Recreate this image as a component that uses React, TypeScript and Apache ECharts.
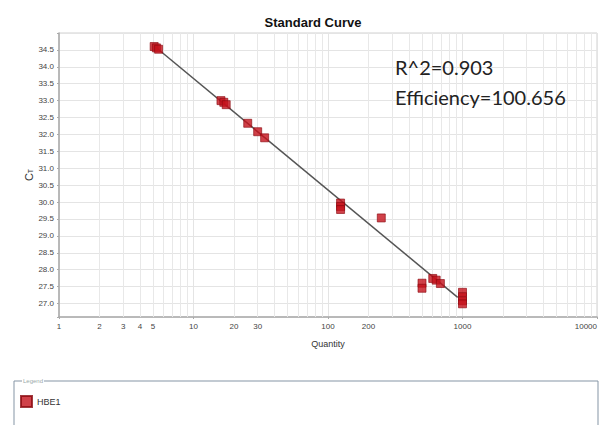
import React, { useEffect, useRef } from "react";
import * as echarts from "echarts";

const seriesName = "HBE1";
const quantities = [5.1, 5.3, 5.5, 16, 16.8, 17.5, 25.3, 30, 33.8, 124, 124, 124, 249, 500, 500, 601, 637, 685, 1000, 1000, 1000, 1000];
const ctValues = [34.6, 34.56, 34.52, 33.0, 32.95, 32.88, 32.33, 32.08, 31.9, 29.97, 29.87, 29.78, 29.53, 27.6, 27.45, 27.74, 27.69, 27.59, 27.33, 27.2, 27.08, 26.99];
const fitQuantities = [5.16, 921];
const fitCt = [34.6, 27.18];
const minorGridValues = [2, 3, 4, 5, 6, 7, 8, 9, 20, 30, 40, 50, 60, 70, 80, 90, 200, 300, 400, 500, 600, 700, 800, 900, 2000, 3000, 4000, 5000, 6000, 7000, 8000, 9000];
const minorLabelValues = [2, 3, 4, 5, 20, 30, 200];
const annotationLines = ["R^2=0.903", "Efficiency=100.656"];

export default function App() {
  const ref = useRef<HTMLDivElement>(null);
  useEffect(() => {
    if (!ref.current) return;
    const chart = echarts.init(ref.current, null, { renderer: "svg" });
    const points = quantities.map((q, i) => [q, ctValues[i]]);
    const fit = fitQuantities.map((q, i) => [q, fitCt[i]]);
    const labelFont = { fontSize: 8, color: "#444", fontFamily: "Liberation Sans, Arial, sans-serif" };
    chart.setOption({
      animation: false,
      backgroundColor: "#fff",
      title: {
        text: "Standard Curve",
        left: 308,
        textAlign: "center",
        top: 11,
        textStyle: { fontSize: 13, fontWeight: "bold", color: "#111", fontFamily: "Liberation Sans, Arial, sans-serif" },
      },
      grid: { left: 59, top: 33, right: 7, bottom: 108, show: true, borderColor: "#d0d0d0", borderWidth: 1, outerBoundsMode: "none", containLabel: false },
      xAxis: {
        type: "log",
        logBase: 10,
        min: 1,
        max: 10000,
        name: "Quantity",
        nameLocation: "middle",
        nameGap: 22,
        nameTextStyle: { fontSize: 9, color: "#333", fontFamily: "Liberation Sans, Arial, sans-serif" },
        axisLine: { lineStyle: { color: "#aaa", width: 1.5 } },
        axisTick: { show: true, length: 2, lineStyle: { color: "#aaa" } },
        axisLabel: { ...labelFont, margin: 5, alignMaxLabel: "right", formatter: (v: number) => String(Math.round(v)) },
        splitLine: { show: true, lineStyle: { color: "#e4e4e4", width: 1 } },
      },
      yAxis: {
        type: "value",
        min: 26.6,
        max: 35.0,
        splitNumber: 17,
        name: "{c|C}{t|T}",
        nameLocation: "middle",
        nameGap: 25,
        nameMoveOverlap: false,
        nameRotate: 90,
        nameTextStyle: {
          rich: {
            c: { fontSize: 11, color: "#333", fontFamily: "Liberation Sans, Arial, sans-serif" },
            t: { fontSize: 7, color: "#333", fontFamily: "Liberation Sans, Arial, sans-serif", verticalAlign: "bottom" },
          },
        },
        axisLine: { show: true, lineStyle: { color: "#aaa", width: 1.5 } },
        axisTick: { show: true, length: 2, lineStyle: { color: "#aaa" } },
        axisLabel: {
          ...labelFont,
          margin: 5,
          formatter: (v: number) => (v >= 26.99 && v <= 34.51 && Math.abs(v * 2 - Math.round(v * 2)) < 1e-6 ? v.toFixed(1) : ""),
        },
        splitLine: { show: true, lineStyle: { color: "#e4e4e4", width: 1 } },
      },
      legend: {
        data: [seriesName],
        left: 15,
        top: 390,
        icon: "rect",
        itemWidth: 11,
        itemHeight: 11,
        itemGap: 6,
        textStyle: { fontSize: 9, color: "#333", fontFamily: "Liberation Sans, Arial, sans-serif" },
      },
      graphic: [
        {
          type: "rect",
          shape: { x: 14, y: 381, width: 584, height: 80 },
          style: { fill: "none", stroke: "#8595a5", lineWidth: 1 },
          silent: true,
          z: 1,
        },
        {
          type: "text",
          x: 22,
          y: 378,
          style: { text: "Legend", fontSize: 6, fill: "#9aa", backgroundColor: "#fff", padding: [0, 1], fontFamily: "Liberation Sans, Arial, sans-serif" },
          silent: true,
          z: 2,
        },
        {
          type: "text",
          x: 395,
          y: 67,
          style: { text: annotationLines[0], fontSize: 20, fill: "#222", fontFamily: "Lato, sans-serif", verticalAlign: "middle" },
          z: 10,
        },
        {
          type: "text",
          x: 395,
          y: 97,
          style: { text: annotationLines[1], fontSize: 20, fill: "#222", fontFamily: "Lato, sans-serif", verticalAlign: "middle" },
          z: 10,
        },
      ],
      series: [
        {
          name: "fit",
          type: "line",
          data: fit,
          symbol: "none",
          lineStyle: { color: "#555", width: 1.5 },
          z: 3,
          silent: true,
          markLine: {
            silent: true,
            symbol: ["none", "none"],
            lineStyle: { color: "#e8e8e8", width: 1, type: "solid" },
            z: 1,
            data: minorGridValues.map((v) => ({
              xAxis: v,
              label: minorLabelValues.includes(v)
                ? { show: true, position: "start", formatter: String(v), distance: 5, ...labelFont }
                : { show: false },
            })),
          },
        },
        {
          name: seriesName,
          type: "scatter",
          data: points,
          symbol: "rect",
          symbolSize: 8,
          itemStyle: { color: "#c4121c", borderColor: "#8a0a10", borderWidth: 0.8 },
          z: 5,
        },
      ],
    });
    return () => chart.dispose();
  }, []);
  return <div ref={ref} style={{ position: "fixed", left: 0, top: 0, width: 604, height: 425 }} />;
}
